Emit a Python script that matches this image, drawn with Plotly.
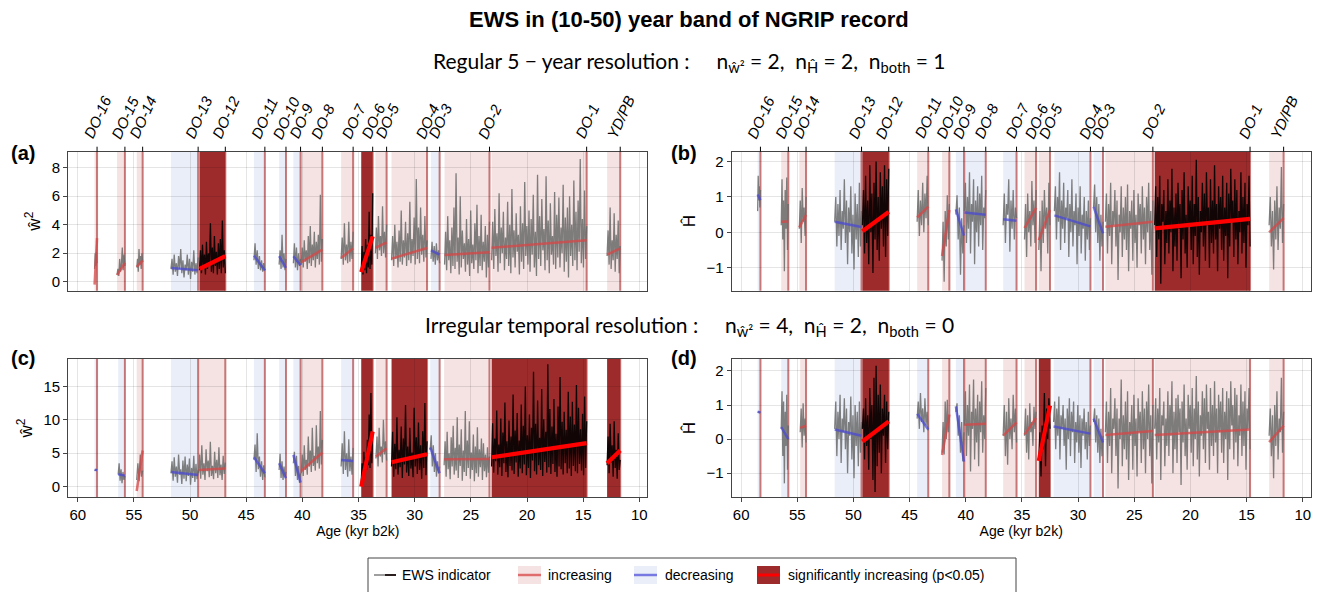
import plotly.graph_objects as go

# ---------------------------------------------------------------------------
# Dansgaard-Oeschger (DO) onsets, GICC05 ages in kyr b2k
events = ["DO-16", "DO-15", "DO-14", "DO-13", "DO-12", "DO-11", "DO-10", "DO-9",
          "DO-8", "DO-7", "DO-6", "DO-5", "DO-4", "DO-3", "DO-2", "DO-1", "YD/PB"]
event_age = [58.28, 55.80, 54.22, 49.28, 46.86, 43.34, 41.46, 40.16,
             38.22, 35.48, 33.74, 32.50, 28.90, 27.78, 23.34, 14.69, 11.70]

x_ticks = [60, 55, 50, 45, 40, 35, 30, 25, 20, 15, 10]

# ---------------------------------------------------------------------------
# (a) variance w^2, regular 5-year resolution
a_start = [58.50, 56.50, 54.74, 51.70, 49.16, 44.31, 42.07, 40.80, 40.10, 36.55,
           34.76, 33.50, 32.06, 28.55, 27.34, 23.15, 12.87]
a_kind = ["inc", "inc", "inc", "dec", "sig", "dec", "dec", "dec", "inc", "inc",
          "sig", "inc", "inc", "dec", "inc", "inc", "inc"]
a_trend0 = [-0.2, 0.46, 1.04, 0.97, 0.90, 1.83, 1.79, 1.79, 1.37, 1.67,
            0.67, 2.37, 1.62, 2.20, 1.88, 2.39, 1.90]
a_trend1 = [3.06, 1.32, 1.50, 0.81, 1.80, 0.79, 0.97, 1.16, 2.25, 2.34,
            3.18, 2.76, 2.37, 1.90, 2.06, 2.90, 2.34]
a_ews = [
    [0.9, 2.0, 1.1, 2.1, 1.3],
    [0.5, 0.9, 0.4, 1.6, 0.7, 1.2, 2.4, 0.8, 1.9, 1.1],
    [1.0, 1.6, 0.7, 2.3, 1.2, 1.8, 0.9, 2.0, 1.4],
    [0.9, 1.6, 0.5, 1.9, 0.7, 1.3, 0.4, 1.8, 0.9, 2.3, 0.6, 1.5, 0.3, 1.2, 0.8, 1.9,
     0.5, 1.6, 0.2, 1.4, 0.7, 2.2, 0.5, 1.3, 0.6, 1.7],
    [0.8, 2.2, 0.6, 2.6, 1.0, 1.9, 0.5, 2.8, 0.9, 2.0, 1.3, 4.1, 0.7, 2.4, 0.6, 3.2,
     1.1, 2.1, 0.5, 2.7, 0.9, 3.0, 0.6, 4.3, 1.0, 2.2, 0.6],
    [1.5, 2.7, 1.2, 2.2, 0.9, 1.8, 0.8, 1.5, 0.7, 1.3, 0.8],
    [1.2, 2.2, 0.9, 3.3, 1.0, 2.0, 0.8, 1.6],
    [1.3, 2.7, 1.0, 2.4, 0.8, 2.0, 1.1, 1.6],
    [1.2, 2.4, 1.0, 2.9, 1.4, 2.2, 0.9, 3.2, 1.3, 3.9, 1.1, 2.6, 1.5, 3.5, 1.0, 2.8,
     1.6, 3.3, 1.2, 6.1, 1.4, 3.0],
    [1.6, 3.1, 1.2, 4.1, 1.5, 2.6, 1.3, 4.2, 1.4, 2.8, 1.6, 3.5],
    [0.7, 2.5, 0.5, 2.1, 0.8, 3.0, 0.6, 2.6, 1.0, 4.9, 0.9, 3.3, 1.2, 6.2],
    [2.0, 3.8, 1.6, 4.6, 2.2, 3.2, 1.8, 5.3, 2.0, 3.5, 1.7, 4.0],
    [1.5, 3.2, 1.1, 4.0, 1.6, 2.8, 1.0, 3.6, 1.4, 5.0, 1.2, 2.9, 1.7, 4.2, 1.1, 3.4,
     1.5, 5.6, 1.3, 3.0, 1.8, 4.5, 1.2, 7.2, 1.6, 3.8, 1.3, 5.2, 1.9, 3.3, 1.4, 4.6,
     1.7, 2.9],
    [1.6, 2.8, 1.4, 2.5, 1.2, 2.7, 1.5, 2.2, 1.3],
    [1.2, 3.5, 0.8, 4.6, 1.5, 2.9, 0.6, 3.8, 1.1, 5.2, 0.9, 7.6, 1.4, 3.1, 0.5, 6.0,
     1.0, 3.6, 1.6, 2.7, 0.7, 4.4, 1.2, 3.0, 0.4, 5.0, 1.3, 2.6, 0.9, 4.1, 1.5, 5.4,
     0.6, 3.2, 1.1, 4.7, 0.8, 2.8, 1.4, 3.9, 0.3, 3.3, 1.0, 4.2],
    [1.5, 4.2, 0.9, 5.1, 1.8, 3.4, 0.7, 6.2, 1.3, 3.8, 2.0, 4.9, 0.8, 3.1, 1.6, 5.6,
     1.1, 4.0, 0.6, 6.5, 1.7, 3.6, 1.0, 4.8, 2.1, 3.3, 0.5, 5.3, 1.4, 4.1, 0.9, 7.0,
     1.8, 3.9, 1.2, 5.0, 0.7, 4.4, 1.9, 6.1, 1.0, 3.5, 0.4, 7.5, 1.6, 4.6, 1.1, 5.8,
     2.2, 3.7, 0.8, 7.4, 1.5, 4.3, 0.6, 5.5, 1.9, 3.2, 1.2, 6.3, 0.9, 4.7, 1.7, 5.9,
     1.0, 3.8, 2.0, 6.8, 0.7, 4.5, 1.4, 5.2, 0.3, 6.0, 1.8, 4.0, 1.1, 7.1, 1.5, 4.9,
     0.8, 5.7, 2.1, 8.6, 1.3, 4.4, 1.0, 6.4, 1.6, 3.9],
    [1.8, 3.6, 1.2, 5.2, 0.9, 2.9, 1.5, 4.8, 0.7, 3.3, 1.6, 4.3, 0.6, 2.5],
]

# ---------------------------------------------------------------------------
# (b) Hurst exponent H, regular 5-year resolution
b_start = [58.53, 56.43, 54.82, 51.67, 49.20, 44.33, 42.11, 40.88, 40.12, 36.67,
           34.77, 33.50, 32.11, 28.62, 27.57, 23.18, 12.99]
b_kind = ["dec", "inc", "inc", "dec", "sig", "inc", "inc", "dec", "dec", "dec",
          "inc", "inc", "dec", "dec", "inc", "sig", "inc"]
b_trend0 = [1.07, 0.30, 0.14, 0.30, 0.03, 0.42, -0.67, 0.65, 0.56, 0.37,
            0.12, -0.22, 0.48, 0.72, 0.16, 0.11, 0.00]
b_trend1 = [0.91, 0.31, 0.49, 0.15, 0.58, 0.73, 0.63, -0.09, 0.50, 0.33,
            0.69, 0.63, 0.17, -0.03, 0.30, 0.38, 0.40]
b_ews = [
    [0.6, 1.6, 0.9, 1.3, 0.7, 1.2],
    [0.2, 1.5, -0.2, 0.9, -1.1, 1.2, 0.1, 1.55, -0.5, 0.8],
    [0.1, 0.9, -0.3, 1.25, 0.3, 0.7, -0.1, 1.0],
    [0.3, 1.0, -0.4, 0.8, -0.1, 1.2, -0.5, 0.6, 0.1, 1.5, -0.3, 0.9, -0.9, 0.7, 0.0, 1.3,
     -0.6, 0.5, -1.05, 1.1, -0.2, 0.8, -0.7, 1.4, -0.4, 0.6],
    [0.2, 1.2, -0.6, 1.6, -0.3, 0.9, -0.9, 1.9, 0.0, 1.1, -1.15, 1.4, -0.2, 2.0, -0.5, 1.0,
     -0.8, 1.7, 0.1, 1.3, -0.4, 1.9, -0.7, 1.5, -0.1, 1.8],
    [0.3, 1.2, -0.1, 0.9, 0.2, 1.4, 0.0, 1.1, 0.4, 1.6, 0.2],
    [-0.8, 0.3, -1.4, 0.6, -0.4, 1.05, -0.2, 0.8],
    [0.5, 1.05, -0.2, 0.7, -1.2, 0.4, -0.6, 0.2],
    [0.6, 1.4, -0.3, 1.0, 0.1, 1.7, -0.6, 0.8, 0.3, 1.5, -0.9, 0.9, 0.0, 1.3, -0.4, 1.1,
     0.2, 1.6, -0.5, 0.7, 0.4, 1.2],
    [0.2, 1.1, -0.3, 0.8, 0.5, 1.5, -0.55, 0.9, 0.1, 1.2, -0.2, 0.7, 0.4],
    [-0.2, 0.8, -0.7, 1.1, 0.0, 0.6, -0.4, 1.45, 0.2, 0.9, -0.3, 1.2],
    [-0.5, 0.6, -1.1, 0.9, -0.3, 1.2, 0.1, 0.7, -0.6, 1.4, 0.2],
    [0.6, 1.3, -0.2, 1.0, 0.3, 1.7, -0.5, 0.9, 0.1, 1.4, -0.3, 0.7, 0.4, 1.2, -0.7, 0.8,
     0.0, 1.5, -0.4, 0.6, 0.2, 1.1, -0.9, 0.7, -0.1, 1.3, -0.6, 0.5, 0.1, 1.0, -0.8, 0.6,
     -0.2, 0.9, -0.5, 0.4],
    [0.7, 1.35, 0.0, 1.0, -0.3, 0.8, -0.8, 0.5, -0.4, 0.3],
    [0.3, 1.1, -0.6, 0.8, -0.1, 1.4, -0.9, 0.6, 0.2, 1.2, -0.4, 0.9, -1.35, 0.5, 0.0, 1.3,
     -0.7, 0.7, -0.2, 1.0, -0.5, 1.35, -1.1, 0.6, 0.1, 0.9, -0.8, 1.2, -0.3, 0.5, -1.0, 1.1,
     0.2, 0.8, -0.6, 1.3, -0.2, 0.7, -0.9, 1.0, 0.0, 1.4, -0.5, 0.6, -1.2, 0.9],
    [0.2, 1.3, -0.7, 1.0, -0.2, 1.6, -1.45, 0.8, 0.3, 1.2, -0.9, 0.6, -0.3, 1.5, -0.6, 0.9,
     0.0, 1.8, -1.1, 0.7, -0.4, 1.1, -0.8, 1.4, 0.1, 0.8, -1.3, 1.2, -0.2, 1.7, -0.6, 0.5,
     -1.0, 1.3, 0.2, 0.9, -0.5, 1.6, -0.9, 0.8, -0.1, 2.05, -0.7, 1.0, -1.2, 0.6, 0.0, 1.4,
     -0.4, 1.1, -0.8, 1.7, 0.2, 0.7, -1.0, 1.5, -0.3, 0.9, -0.6, 1.9, -0.2, 0.8, -1.1, 1.3,
     0.1, 1.0, -0.5, 1.6, -0.8, 0.7, -0.1, 1.4, -1.3, 1.1, -0.4, 1.8, 0.3, 0.9, -0.7, 1.5,
     -0.2, 1.2, -0.9, 0.6, 0.0, 1.7, -0.6, 1.0, -0.3, 1.4, -1.0, 0.8, 0.2, 1.6, -0.4],
    [0.2, 1.0, -0.4, 0.6, -1.05, 0.9, -0.2, 1.3, -0.5, 0.7, 0.1, 1.85, -0.3, 0.8],
]

# ---------------------------------------------------------------------------
# (c) variance w^2, irregular temporal resolution
c_start = [58.50, 56.40, 54.75, 51.70, 49.24, 44.31, 42.07, 40.80, 40.10, 36.55,
           34.76, 33.45, 32.06, 28.62, 27.38, 23.15, 12.87]
c_kind = ["dec", "dec", "inc", "dec", "inc", "dec", "dec", "dec", "inc", "dec",
          "sig", "inc", "sig", "dec", "inc", "sig", "sig"]
c_trend0 = [2.55, 1.85, -0.65, 2.20, 2.50, 4.40, 3.50, 4.75, 2.35, 4.00,
            0.00, 4.50, 3.65, 5.85, 4.10, 4.40, 3.50]
c_trend1 = [2.45, 1.65, 5.40, 1.75, 2.70, 2.00, 1.25, 0.60, 5.10, 3.85,
            8.25, 5.75, 4.85, 2.00, 4.15, 6.50, 5.40]
c_ews = [
    [2.4, 2.6],
    [1.8, 3.5, 0.9, 2.6, 0.5, 2.2, 1.0, 1.6],
    [1.0, 3.5, 0.8, 4.8, 1.5, 2.4],
    [2.0, 3.8, 0.9, 4.4, 1.5, 3.0, 0.6, 4.8, 1.8, 2.6, 0.4, 3.9, 1.2, 4.5, 0.8, 3.3,
     1.6, 4.2, 0.3, 2.8, 1.3, 4.6, 0.7, 3.4, 1.1, 2.5],
    [2.0, 4.8, 1.2, 6.2, 1.8, 3.5, 1.0, 5.6, 2.3, 3.9, 1.4, 6.7, 1.6, 3.1, 1.1, 5.2,
     2.0, 4.0, 1.3, 5.9, 1.7, 3.3, 1.0, 4.6, 1.9, 3.6],
    [4.0, 6.3, 2.2, 8.0, 2.6, 4.5, 1.5, 3.8, 1.0, 3.2, 1.4],
    [2.5, 4.9, 1.3, 3.8, 1.0, 3.0, 1.4, 2.2],
    [3.5, 5.2, 1.6, 4.6, 1.0, 3.1, 0.6, 2.0],
    [2.0, 4.8, 1.6, 6.2, 2.5, 4.0, 1.8, 7.5, 3.0, 5.4, 2.2, 8.8, 3.1, 4.6, 2.4, 9.2,
     3.5, 6.0, 2.7, 11.3, 3.3, 7.0],
    [3.0, 6.5, 1.9, 8.3, 2.5, 5.0, 1.5, 7.1, 2.3, 4.5, 1.8, 5.8],
    [0.6, 3.5, 1.0, 5.2, 1.8, 4.4, 2.5, 7.0, 3.2, 10.8, 2.8, 14.0, 3.5, 8.0],
    [4.2, 7.5, 3.0, 8.8, 4.5, 6.0, 3.6, 10.0, 4.8, 6.8, 3.9],
    [3.0, 8.2, 1.5, 6.4, 2.6, 10.4, 1.8, 5.5, 2.9, 9.0, 1.3, 7.2, 3.3, 12.2, 2.1, 6.0,
     1.6, 8.8, 2.7, 5.1, 1.4, 11.8, 3.0, 7.4, 1.9, 9.6, 2.5, 6.2, 1.2, 8.3, 2.8, 12.5,
     1.7, 6.8],
    [5.5, 7.7, 3.0, 6.2, 2.2, 5.0, 1.5, 3.8, 2.0, 3.0],
    [3.2, 6.8, 1.5, 8.2, 2.6, 5.0, 1.1, 7.4, 3.0, 9.1, 1.8, 5.8, 2.4, 10.4, 1.3, 6.3,
     3.1, 8.6, 0.9, 5.4, 2.2, 11.3, 1.6, 6.9, 2.8, 9.8, 1.2, 5.1, 2.5, 7.8, 0.8, 6.0,
     2.0, 8.9, 1.5, 5.6, 2.9, 7.2, 1.0, 6.5, 2.3, 4.8, 1.4, 5.9, 2.1, 4.5],
    [3.0, 9.5, 2.1, 7.2, 3.8, 11.4, 1.8, 6.3, 2.9, 10.2, 1.6, 8.1, 3.5, 12.6, 2.2, 6.8,
     1.4, 9.9, 3.1, 7.5, 2.4, 13.8, 1.9, 8.4, 3.6, 11.0, 1.5, 6.9, 2.7, 12.3, 2.0, 9.1,
     3.3, 15.0, 1.7, 7.7, 2.8, 10.8, 1.3, 8.8, 3.9, 17.2, 2.3, 9.4, 1.8, 12.9, 3.2, 7.3,
     2.5, 14.6, 1.6, 10.1, 3.7, 8.2, 2.1, 18.3, 2.9, 11.6, 1.9, 9.0, 3.4, 13.1, 2.2, 7.9,
     1.5, 12.0, 3.0, 16.4, 2.6, 9.7, 1.8, 11.2, 3.5, 8.5, 2.0, 14.2, 2.7, 10.5, 1.6, 12.7,
     3.1, 9.3, 2.3, 15.2, 2.0, 11.8, 3.4, 8.6, 2.4, 10.9, 1.7, 13.5, 2.8, 9.8],
    [3.2, 7.5, 2.0, 9.4, 3.6, 6.2, 1.5, 9.8, 2.8, 5.5, 1.2, 8.0, 2.5, 4.0],
]

# ---------------------------------------------------------------------------
# (d) Hurst exponent H, irregular temporal resolution
d_start = [58.53, 56.43, 54.74, 51.67, 49.20, 44.33, 42.11, 40.88, 40.12, 36.67,
           34.77, 33.50, 32.18, 28.62, 27.57, 23.18, 12.99]
d_kind = ["dec", "dec", "inc", "dec", "sig", "dec", "inc", "dec", "inc", "inc",
          "inc", "sig", "dec", "dec", "inc", "inc", "inc"]
d_trend0 = [0.80, 0.35, 0.33, 0.28, -0.07, 0.74, -0.47, 0.96, 0.42, 0.10,
            0.13, -0.64, 0.37, 0.60, 0.12, 0.12, -0.09]
d_trend1 = [0.78, 0.00, 0.39, 0.10, 0.52, 0.28, 0.72, -0.66, 0.45, 0.49,
            0.62, 0.98, 0.16, -0.10, 0.24, 0.28, 0.39]
d_ews = [
    [0.8, 0.78],
    [0.3, 1.4, -0.5, 1.1, -1.3, 0.8, -0.2, 1.3, -0.9, 0.4],
    [0.2, 0.9, -0.25, 1.05, 0.1, 0.6, -0.1],
    [0.3, 1.1, -0.5, 0.8, 0.0, 1.3, -0.7, 0.6, 0.2, 1.2, -0.3, 0.9, -1.0, 0.5, 0.1, 1.25,
     -0.6, 0.7, -1.15, 1.0, -0.2, 0.8, -0.8, 1.1, -0.4, 0.5],
    [0.3, 0.9, -0.6, 1.2, -0.2, 0.7, -0.9, 1.5, 0.0, 1.0, -1.2, 1.8, -1.55, 2.15, -0.8, 1.3,
     -0.4, 1.6, -1.0, 0.9, 0.1, 1.3, -0.7, 1.1, -0.3, 0.8],
    [0.6, 1.1, 0.3, 1.35, 0.5, 0.9, 0.2, 1.2, 0.4, 0.8, 0.25],
    [-0.4, 0.5, -0.45, 1.1, 0.0, 1.15, 0.2, 0.7],
    [0.8, 1.05, 0.1, 0.7, -0.4, 0.5, -0.65, 0.2],
    [0.4, 1.4, -0.5, 1.0, 0.1, 1.6, -0.95, 0.8, 0.3, 1.75, -0.6, 0.9, -0.1, 1.3, -0.8, 1.1,
     0.2, 1.7, -0.4, 0.7, 0.0, 1.5],
    [0.1, 1.0, -0.5, 0.8, -0.75, 1.2, 0.0, 0.6, -0.3, 1.3, 0.2, 0.9, -0.1],
    [0.1, 0.9, -0.4, 0.7, -0.6, 1.05, 0.2, 0.5, -0.2, 0.95, 0.3, 0.8],
    [-0.6, 0.2, -1.1, 0.4, -0.3, 1.35, -0.8, 0.9, 0.0, 1.2, 0.3],
    [0.5, 1.1, -0.3, 0.9, 0.1, 1.25, -0.6, 0.7, 0.3, 1.0, -0.2, 0.6, -0.9, 0.9, 0.0, 1.2,
     -0.5, 0.8, 0.2, 1.1, -0.7, 0.5, -0.1, 1.0, -0.4, 0.7, -0.85, 0.6, 0.1, 0.9, -0.3, 0.5,
     -0.6, 0.8, -0.2, 0.4],
    [0.5, 0.9, -0.1, 0.7, -0.4, 0.6, -0.7, 0.3, -0.5, 0.1],
    [0.2, 1.1, -0.7, 0.8, -0.2, 1.5, -1.0, 0.6, 0.3, 1.2, -0.5, 0.9, -1.45, 0.6, 0.0, 1.75,
     -0.8, 0.7, -0.3, 1.1, -0.6, 1.4, -1.2, 0.5, 0.1, 1.0, -0.9, 1.3, -0.2, 0.6, -1.1, 1.2,
     0.2, 0.8, -0.7, 1.4, -0.3, 0.9, -1.0, 1.1, 0.0, 1.6, -0.5, 0.7, -1.3, 1.0],
    [0.3, 1.2, -0.6, 0.9, -0.1, 1.5, -1.2, 0.7, 0.4, 1.1, -0.8, 0.6, -0.2, 1.4, -0.5, 1.0,
     0.1, 1.7, -1.0, 0.8, -0.3, 1.2, -0.7, 1.3, 0.2, 0.9, -1.35, 1.1, -0.1, 1.6, -0.5, 0.6,
     -0.9, 1.3, 0.3, 1.0, -0.4, 1.5, -0.8, 0.9, 0.0, 1.85, -0.6, 1.1, -1.1, 0.7, 0.1, 1.4,
     -0.3, 1.2, -0.7, 1.6, 0.3, 0.8, -0.9, 1.5, -0.2, 1.0, -0.5, 1.7, -0.1, 0.9, -1.0, 1.3,
     0.2, 1.1, -0.4, 1.5, -0.7, 0.8, 0.0, 1.4, -1.2, 1.2, -0.3, 1.7, 0.4, 1.0, -0.6, 1.5,
     -0.1, 1.3, -0.8, 0.7, 0.1, 1.6, -0.5, 1.1, -0.2, 1.4, -0.9, 0.9, 0.3, 1.5, -0.3],
    [0.1, 0.9, -0.5, 0.7, -1.15, 1.0, -0.2, 1.4, -0.6, 0.6, 0.2, 1.8, -0.4, 0.8],
]

# ---------------------------------------------------------------------------
W, H = 1322, 592
FONT = "Liberation Sans"


def px(x):
    return x / W


def py(y):
    return 1 - y / H


X_LEFT = [px(68.3), px(647.3)]
X_RIGHT = [px(731.7), px(1310.7)]
Y_TOP = [py(290.7), py(151.7)]
Y_BOT = [py(497.0), py(359.0)]
X_RANGE = [60.84, 9.29]

BAND = {"inc": "rgba(185,70,70,0.15)", "dec": "rgba(90,125,200,0.13)", "sig": "#9e2b2b"}
TREND = {"inc": ("rgba(215,70,70,0.75)", 2.5),
         "dec": ("rgba(70,70,215,0.7)", 2.5),
         "sig": ("#ff0000", 4.2)}
DO_LINE = "rgba(165,35,35,0.6)"

panels = [
    dict(ax="", start=a_start, kind=a_kind, t0=a_trend0, t1=a_trend1, ews=a_ews,
         xdom=X_LEFT, ydom=Y_TOP, yrange=[-0.63, 9.12], yticks=[0, 2, 4, 6, 8],
         ytitle="ŵ<sup>2</sup>", label="(a)", lx=23, ly=153, top=True, bottom=False),
    dict(ax="2", start=b_start, kind=b_kind, t0=b_trend0, t1=b_trend1, ews=b_ews,
         xdom=X_RIGHT, ydom=Y_TOP, yrange=[-1.65, 2.28], yticks=[-1, 0, 1, 2],
         ytitle="Ĥ", label="(b)", lx=684, ly=153, top=True, bottom=False),
    dict(ax="3", start=c_start, kind=c_kind, t0=c_trend0, t1=c_trend1, ews=c_ews,
         xdom=X_LEFT, ydom=Y_BOT, yrange=[-1.55, 19.1], yticks=[0, 5, 10, 15],
         ytitle="ŵ<sup>2</sup>", label="(c)", lx=23, ly=358, top=False, bottom=True),
    dict(ax="4", start=d_start, kind=d_kind, t0=d_trend0, t1=d_trend1, ews=d_ews,
         xdom=X_RIGHT, ydom=Y_BOT, yrange=[-1.70, 2.35], yticks=[-1, 0, 1, 2],
         ytitle="Ĥ", label="(d)", lx=684, ly=358, top=False, bottom=True),
]

fig = go.Figure()
shapes, annotations = [], []
layout = dict(width=W, height=H, margin=dict(l=0, r=0, t=0, b=0),
              paper_bgcolor="white", plot_bgcolor="white", showlegend=False,
              font=dict(family=FONT, size=15, color="black"))

for p in panels:
    xr, yr = "x" + p["ax"], "y" + p["ax"]
    grey_x, grey_y, black_x, black_y = [], [], [], []
    trend_xy = {"inc": ([], []), "dec": ([], []), "sig": ([], [])}

    for i, age in enumerate(event_age):
        x0, kind, vals = p["start"][i], p["kind"][i], p["ews"][i]
        # shaded window before the transition
        shapes.append(dict(type="rect", xref=xr, yref=yr + " domain", x0=x0, x1=age,
                           y0=0, y1=1, fillcolor=BAND[kind], line_width=0, layer="below"))
        # indicator series, evenly spread across the window
        n = len(vals)
        xs = [x0 + (age - x0) * k / (n - 1) for k in range(n)]
        tx, ty = (black_x, black_y) if kind == "sig" else (grey_x, grey_y)
        tx.extend(xs + [None])
        ty.extend(vals + [None])
        # linear trend
        lx, ly = trend_xy[kind]
        lx.extend([x0, age, None])
        ly.extend([p["t0"][i], p["t1"][i], None])

    # DO onset markers
    for age in event_age:
        shapes.append(dict(type="line", xref=xr, yref=yr + " domain", x0=age, x1=age,
                           y0=0, y1=1, line=dict(color=DO_LINE, width=2), layer="below"))
        if p["top"]:
            shapes.append(dict(type="line", xref=xr, yref="paper", x0=age, x1=age,
                               y0=p["ydom"][1], y1=p["ydom"][1] + 5 / H,
                               line=dict(color="black", width=1)))
    if p["top"]:
        for name, age in zip(events, event_age):
            annotations.append(dict(text=name, xref=xr, yref="paper", x=age,
                                    y=p["ydom"][1], xanchor="center", yanchor="bottom",
                                    yshift=8, textangle=-65, showarrow=False,
                                    font=dict(family=FONT, size=15, style="italic")))

    fig.add_trace(go.Scatter(x=grey_x, y=grey_y, mode="lines", xaxis=xr, yaxis=yr,
                             line=dict(color="rgba(105,105,105,0.85)", width=1.3),
                             hoverinfo="skip"))
    fig.add_trace(go.Scatter(x=black_x, y=black_y, mode="lines", xaxis=xr, yaxis=yr,
                             line=dict(color="#120505", width=1.3), hoverinfo="skip"))
    for kind in ["inc", "dec", "sig"]:
        col, wid = TREND[kind]
        fig.add_trace(go.Scatter(x=trend_xy[kind][0], y=trend_xy[kind][1], mode="lines",
                                 xaxis=xr, yaxis=yr, line=dict(color=col, width=wid),
                                 hoverinfo="skip"))

    xa = dict(domain=p["xdom"], anchor=yr, range=X_RANGE, tickvals=x_ticks,
              showgrid=True, gridcolor="rgba(0,0,0,0.10)", gridwidth=1,
              showline=True, linecolor="#444", linewidth=1.2, mirror=True,
              zeroline=False, showticklabels=p["bottom"],
              ticks="outside" if p["bottom"] else "", ticklen=4, tickcolor="#444",
              tickfont=dict(size=15))
    if p["bottom"]:
        xa["title"] = dict(text="Age (kyr b2k)", font=dict(size=14), standoff=4)
    ya = dict(domain=p["ydom"], anchor=xr, range=p["yrange"], tickvals=p["yticks"],
              showgrid=True, gridcolor="rgba(0,0,0,0.10)", gridwidth=1,
              showline=True, linecolor="#444", linewidth=1.2, mirror=True,
              zeroline=False, ticks="outside", ticklen=4, tickcolor="#444",
              tickfont=dict(size=15),
              title=dict(text=p["ytitle"], font=dict(size=17), standoff=6))
    layout["xaxis" + p["ax"]] = xa
    layout["yaxis" + p["ax"]] = ya

    annotations.append(dict(text="<b>" + p["label"] + "</b>", xref="paper", yref="paper",
                            x=px(p["lx"]), y=py(p["ly"]), xanchor="center",
                            yanchor="middle", showarrow=False, font=dict(size=20)))

# titles
NB = "\u00a0"
annotations.append(dict(text="<b>EWS in (10-50) year band of NGRIP record</b>",
                        xref="paper", yref="paper", x=px(689), y=py(19),
                        xanchor="center", yanchor="middle", showarrow=False,
                        font=dict(size=22)))
sub_font = dict(family="Lato", size=21)
annotations.append(dict(
    text="Regular 5 − year resolution :" + NB * 5 + "n<sub>ŵ²</sub> = 2," + NB * 2
         + "n<sub>Ĥ</sub> = 2," + NB * 2 + "n<sub>both</sub> = 1",
    xref="paper", yref="paper", x=px(689), y=py(62), xanchor="center",
    yanchor="middle", showarrow=False, font=sub_font))
annotations.append(dict(
    text="Irregular temporal resolution :" + NB * 5 + "n<sub>ŵ²</sub> = 4," + NB * 2
         + "n<sub>Ĥ</sub> = 2," + NB * 2 + "n<sub>both</sub> = 0",
    xref="paper", yref="paper", x=px(689), y=py(326), xanchor="center",
    yanchor="middle", showarrow=False, font=sub_font))

# legend box
LY = 575
shapes.append(dict(type="rect", xref="paper", yref="paper", x0=px(368), x1=px(1016),
                   y0=py(596), y1=py(558), line=dict(color="#444", width=1),
                   fillcolor="white"))
shapes.append(dict(type="line", xref="paper", yref="paper", x0=px(374), x1=px(385),
                   y0=py(LY), y1=py(LY), line=dict(color="rgba(105,105,105,0.85)", width=1.5)))
shapes.append(dict(type="line", xref="paper", yref="paper", x0=px(385), x1=px(396),
                   y0=py(LY), y1=py(LY), line=dict(color="#120505", width=1.8)))
legend_items = [(518, 546, "inc", "increasing"),
                (634, 663, "dec", "decreasing"),
                (757, 786, "sig", "significantly increasing (p&lt;0.05)")]
for x0, tx, kind, label in legend_items:
    shapes.append(dict(type="rect", xref="paper", yref="paper", x0=px(x0), x1=px(x0 + 23),
                       y0=py(LY + 9), y1=py(LY - 9), fillcolor=BAND[kind], line_width=0))
    col, wid = TREND[kind]
    shapes.append(dict(type="line", xref="paper", yref="paper", x0=px(x0), x1=px(x0 + 23),
                       y0=py(LY), y1=py(LY), line=dict(color=col, width=min(wid, 3))))
    annotations.append(dict(text=label, xref="paper", yref="paper", x=px(tx), y=py(LY),
                            xanchor="left", yanchor="middle", showarrow=False,
                            font=dict(size=14)))
annotations.append(dict(text="EWS indicator", xref="paper", yref="paper", x=px(400),
                        y=py(LY), xanchor="left", yanchor="middle", showarrow=False,
                        font=dict(size=14)))

layout["shapes"] = shapes
layout["annotations"] = annotations
fig.update_layout(**layout)
fig.write_html("out.html")
